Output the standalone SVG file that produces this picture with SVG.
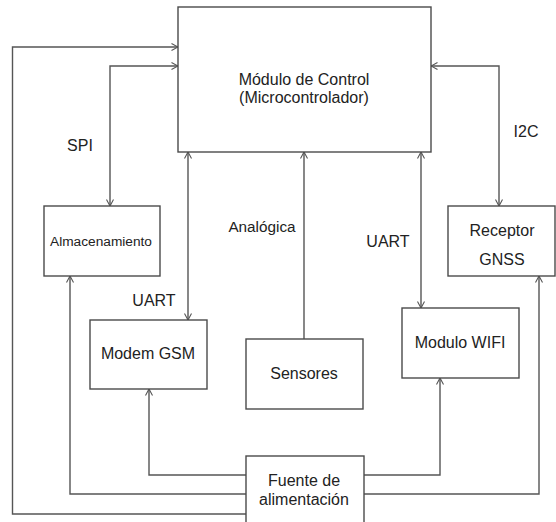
<svg xmlns="http://www.w3.org/2000/svg" width="556" height="522" viewBox="0 0 556 522">
<style>
.box{fill:#fff;stroke:#4a4a4a;stroke-width:1.4}
.ln{fill:none;stroke:#555;stroke-width:1.4}
text{font-family:"Liberation Sans",Arial,sans-serif;font-size:16px;fill:#222;text-anchor:middle}
.s15{font-size:15.3px}
.s13{font-size:13.7px}
</style>
<defs>
<marker id="a" viewBox="0 0 8 8" refX="7.5" refY="4" markerWidth="8" markerHeight="8" markerUnits="userSpaceOnUse" orient="auto-start-reverse">
<path d="M1,0.5 L7.5,4 L1,7.5" fill="none" stroke="#555" stroke-width="1.1"/>
</marker>
</defs>
<rect width="556" height="522" fill="#fff"/>
<g id="connectors">
<path class="ln" d="M246,514 H12.5 V47 H178" marker-end="url(#a)"/>
<path class="ln" d="M178,66 H110 V206" marker-start="url(#a)" marker-end="url(#a)"/>
<path class="ln" d="M188,152 V320" marker-start="url(#a)" marker-end="url(#a)"/>
<path class="ln" d="M304,339 V152" marker-end="url(#a)"/>
<path class="ln" d="M421,152 V308" marker-start="url(#a)" marker-end="url(#a)"/>
<path class="ln" d="M431,66 H499 V206" marker-start="url(#a)" marker-end="url(#a)"/>
<path class="ln" d="M246,475 H149 V389" marker-end="url(#a)"/>
<path class="ln" d="M246,494 H70 V276" marker-end="url(#a)"/>
<path class="ln" d="M364,475 H440 V378" marker-end="url(#a)"/>
<path class="ln" d="M364,494 H539 V276" marker-end="url(#a)"/>
<text x="80" y="151">SPI</text>
<text class="s15" x="262" y="232">Analógica</text>
<text x="154" y="306">UART</text>
<text x="388" y="247">UART</text>
<text x="526" y="137">I2C</text>
</g>
<g id="control">
<rect class="box" x="178" y="7" width="253" height="145"/>
<text x="304" y="85">Módulo de Control</text>
<text x="304" y="103">(Microcontrolador)</text>
</g>
<g id="almacenamiento">
<rect class="box" x="44" y="206" width="116" height="70"/>
<text class="s13" x="101" y="246">Almacenamiento</text>
</g>
<g id="modem">
<rect class="box" x="90" y="320" width="117" height="69"/>
<text x="148" y="359">Modem GSM</text>
</g>
<g id="sensores">
<rect class="box" x="246" y="339" width="117" height="70"/>
<text x="304" y="379">Sensores</text>
</g>
<g id="wifi">
<rect class="box" x="402" y="308" width="117" height="70"/>
<text x="460" y="348">Modulo WIFI</text>
</g>
<g id="gnss">
<rect class="box" x="448" y="206" width="107" height="70"/>
<text x="502" y="236">Receptor</text>
<text x="502" y="265">GNSS</text>
</g>
<g id="fuente">
<rect class="box" x="246" y="456" width="118" height="80"/>
<text x="304" y="486">Fuente de</text>
<text x="304" y="505">alimentación</text>
</g>
</svg>
